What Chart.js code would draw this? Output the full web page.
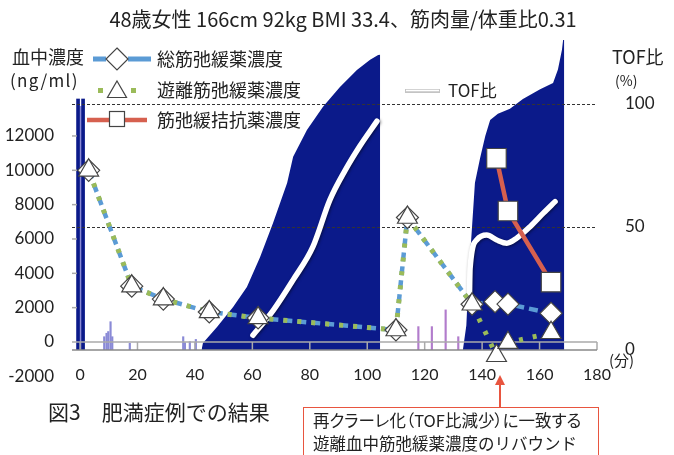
<!DOCTYPE html>
<html>
<head>
<meta charset="utf-8">
<script src="https://cdn.jsdelivr.net/npm/chart.js@4.4.1/dist/chart.umd.min.js"></script>
<style>
  body { margin: 0; background: #fff; }
  #wrap { position: relative; width: 674px; height: 455px; overflow: hidden; font-family: "Noto Sans CJK JP", sans-serif; color: #222; }
  #wrap canvas { position: absolute; left: 0; top: 0; }
  .t { position: absolute; white-space: nowrap; line-height: 1; }
  .p { font-feature-settings: "palt"; }
  #note { position: absolute; left: 303px; top: 407px; width: 296px; height: 60px; border: 1.5px solid #e8553f; box-sizing: border-box; }
</style>
</head>
<body>
<div id="wrap">
  <canvas id="chart" width="674" height="455"></canvas>
  <div class="t" style="left:0;width:686px;text-align:center;top:9px;font-size:20px">48歳女性 166cm 92kg BMI 33.4、筋肉量/体重比0.31</div>
  <div class="t" style="left:12px;top:47px;font-size:18px">血中濃度</div>
  <div class="t" style="left:10px;top:71px;font-size:17px;letter-spacing:1.3px">(ng/ml)</div>
  <div class="t" style="left:157px;top:49px;font-size:18px">総筋弛緩薬濃度</div>
  <div class="t" style="left:157px;top:80px;font-size:18px">遊離筋弛緩薬濃度</div>
  <div class="t" style="left:157px;top:110px;font-size:18px">筋弛緩拮抗薬濃度</div>
  <div class="t" style="left:448px;top:81px;font-size:17px">TOF比</div>
  <div class="t" style="left:612px;top:47px;font-size:18px">TOF比</div>
  <div class="t" style="left:615px;top:73px;font-size:14px">(%)</div>
  <div class="t" style="left:609px;top:352px;font-size:15px">(分)</div>
  <div class="t" style="left:48px;top:401px;font-size:21px">図3　肥満症例での結果</div>
  <div id="note"></div>
  <div class="t p" style="left:313px;top:412px;font-size:16.5px">再クラーレ化（TOF比減少）に一致する</div>
  <div class="t" style="left:313px;top:435px;font-size:16.5px">遊離血中筋弛緩薬濃度のリバウンド</div>
</div>
<script>
// axis ticks
const xTicks = [0, 20, 40, 60, 80, 100, 120, 140, 160, 180];
const concTicks = [-2000, 0, 2000, 4000, 6000, 8000, 10000, 12000];
const tofTicks = [0, 50, 100];
const tofGuides = [50, 100];

// blood concentrations (ng/ml)
const totalTime = [3, 18, 29, 45, 62, 110, 114, 136.5, 144.5, 149, 164];
const totalConc = [10000, 3250, 2500, 1750, 1400, 700, 7250, 2200, 2350, 2210, 1670];
const freeTime = [3, 18, 29, 45, 62, 110, 114, 136.5, 145, 149, 164];
const freeConc = [10000, 3250, 2500, 1750, 1400, 700, 7250, 2200, -800, -40, 540];
const antagTime = [145, 149, 164];
const antagConc = [10700, 7630, 3490];

// TOF ratio (%)
const tof1Time = [60.2, 67.2, 74.2, 81.1, 87, 92.3, 97.5, 103.4];
const tof1Ratio = [6, 16, 28.5, 42, 61, 73, 83, 93];
const tof2Time = [135.6, 135.8, 138.1, 141.6, 145.1, 148.6, 152, 156.7, 161.3, 165.4];
const tof2Ratio = [22, 33, 44.7, 46.7, 44.7, 43.4, 45.4, 50.1, 55.6, 60.3];

// monitor trace (T1 height, % scale)
const mon1Time = [42.3, 42.8, 47.7, 53.3, 58.1, 62.7, 67.2, 72.1, 74.2, 79, 84.6, 90.5, 96.4, 101, 103.8, 104.5, 104.5];
const mon1Height = [0, 2.8, 9.3, 17.5, 25.6, 37.8, 51.6, 67.9, 78.5, 89.4, 98.8, 106.9, 113.8, 117.9, 119.9, 120, 0];
const mon2Time = [133.3, 134.5, 135.3, 136.2, 137.5, 139.3, 141.1, 142.8, 145.5, 149.7, 154.2, 160.2, 164.7, 166.4, 167.8, 168.2, 168.6, 168.6];
const mon2Height = [0, 10, 30, 45, 68, 78, 87, 93.5, 96, 98, 102, 106, 108.5, 114, 122, 126, 126, 0];
const spikeTime = [0.35, 2.1];
const spikeHeight = [102, 102];
const lowBarTime = [-0.3, 7.9, 8.7, 9.3, 10.1, 10.7, 16.8, 35.4, 36, 37.7, 39.8];
const lowBarHeight = [99, 5.4, 6.8, 7.5, 11.5, 5.4, 2.7, 5.4, 3, 3.4, 4.3];
const purpleBarTime = [117.8, 122.5, 127.3, 131.7];
const purpleBarHeight = [9.5, 9.5, 16.3, 5.4];

const blue = "#5b9bd5";
const green = "#9bbb59";
const red = "#d6604f";
const navy = "#0b1a8a";
const edge = "#444";

const pts = (xs, ys) => xs.map((x, i) => ({ x: x, y: ys[i] }));

const diamond = (c, x, y, r) => {
  c.beginPath();
  c.moveTo(x, y - r); c.lineTo(x + r, y); c.lineTo(x, y + r); c.lineTo(x - r, y);
  c.closePath();
  c.fillStyle = "#fff"; c.fill();
  c.strokeStyle = edge; c.lineWidth = 1.2; c.stroke();
};
const triangle = (c, x, y, r) => {
  c.beginPath();
  c.moveTo(x, y - r); c.lineTo(x + r * 0.866, y + r / 2); c.lineTo(x - r * 0.866, y + r / 2);
  c.closePath();
  c.fillStyle = "#fff"; c.fill();
  c.strokeStyle = edge; c.lineWidth = 1.2; c.stroke();
};
const line = (c, x1, y1, x2, y2) => {
  c.beginPath(); c.moveTo(x1, y1); c.lineTo(x2, y2); c.stroke();
};

const extras = {
  id: "extras",
  beforeDatasetDraw(chart, args) {
    if (chart.data.datasets[args.index].glow) {
      const c = chart.ctx;
      c.save();
      c.shadowColor = "rgba(0,0,0,0.5)";
      c.shadowBlur = 3;
      c.shadowOffsetX = 1;
      c.shadowOffsetY = 1;
    }
  },
  afterDatasetDraw(chart, args) {
    const ds = chart.data.datasets[args.index];
    if (ds.glow) chart.ctx.restore();
    if (!ds.drawGuides) return;
    // guide lines on top of the monitor trace
    const c = chart.ctx, ca = chart.chartArea;
    const x = chart.scales.x, y = chart.scales.y, y1 = chart.scales.y1;
    c.save();
    c.strokeStyle = "#333";
    c.lineWidth = 1;
    c.setLineDash([3, 2]);
    tofGuides.forEach((v) => {
      const py = Math.round(y1.getPixelForValue(v)) + 0.5;
      line(c, ca.left, py, ca.right, py);
    });
    c.setLineDash([]);
    c.strokeStyle = "#aaa";
    c.lineWidth = 1.5;
    const z = y.getPixelForValue(0);
    line(c, ca.left, z, ca.right, z);
    xTicks.forEach((v) => {
      const px = x.getPixelForValue(v);
      line(c, px, z, px, ca.bottom);
    });
    concTicks.filter((v) => v > 0).forEach((v) => {
      const py = y.getPixelForValue(v);
      line(c, ca.left, py, ca.left + 5, py);
    });
    c.strokeStyle = "#888";
    line(c, ca.left, ca.bottom, ca.right, ca.bottom);
    c.restore();
  },
  afterDraw(chart) {
    const c = chart.ctx;
    c.save();
    // legend symbols
    c.strokeStyle = blue; c.lineWidth = 5;
    line(c, 93, 59, 106, 59);
    line(c, 128, 59, 151, 59);
    diamond(c, 117, 59, 11);
    c.fillStyle = green;
    c.fillRect(98, 88, 5, 5);
    c.fillRect(131, 88, 5, 5);
    triangle(c, 117, 92, 11);
    c.strokeStyle = red; c.lineWidth = 4.5;
    line(c, 87, 120, 147, 120);
    c.fillStyle = "#fff"; c.fillRect(109.5, 111.5, 15, 15);
    c.strokeStyle = edge; c.lineWidth = 1.2; c.strokeRect(109.5, 111.5, 15, 15);
    c.strokeStyle = "#c4c4c4"; c.lineWidth = 4;
    line(c, 405, 91, 440, 91);
    c.strokeStyle = "#fff"; c.lineWidth = 1.5;
    line(c, 406, 90.5, 439, 90.5);
    // annotation arrow
    c.strokeStyle = "#e8553f"; c.fillStyle = "#e8553f"; c.lineWidth = 2;
    line(c, 500, 407, 500, 383);
    c.beginPath(); c.moveTo(500, 375); c.lineTo(495, 385); c.lineTo(505, 385); c.closePath(); c.fill();
    c.restore();
  }
};

const tickFont = { family: "Lato", size: 17 };

new Chart(document.getElementById("chart"), {
  type: "line",
  data: {
    datasets: [
      { label: "monitor1", data: pts(mon1Time, mon1Height), yAxisID: "y1", fill: "origin",
        backgroundColor: navy, borderColor: "rgba(0,0,0,0)", borderWidth: 0, pointRadius: 0, tension: 0, order: 30 },
      { label: "monitor2", data: pts(mon2Time, mon2Height), yAxisID: "y1", fill: "origin",
        backgroundColor: navy, borderColor: "rgba(0,0,0,0)", borderWidth: 0, pointRadius: 0, tension: 0, order: 29 },
      { type: "bar", label: "low", data: pts(lowBarTime, lowBarHeight), yAxisID: "y1",
        backgroundColor: "#8a8ad6", barThickness: 1.5, order: 28 },
      { type: "bar", label: "purple", data: pts(purpleBarTime, purpleBarHeight), yAxisID: "y1",
        backgroundColor: "#b27ccc", barThickness: 1.5, order: 27 },
      { type: "bar", label: "spike", data: pts(spikeTime, spikeHeight), yAxisID: "y1",
        backgroundColor: navy, barThickness: 3, order: 26, drawGuides: true },
      { label: "TOF比", data: [...pts(tof1Time, tof1Ratio), { x: 120, y: null }, ...pts(tof2Time, tof2Ratio)],
        yAxisID: "y1", borderColor: "#fff", borderWidth: 5.5, pointRadius: 0, cubicInterpolationMode: "monotone",
        borderCapStyle: "round", spanGaps: false, order: 10, glow: true },
      { label: "総筋弛緩薬濃度 line", data: pts(totalTime, totalConc), yAxisID: "y",
        borderColor: blue, borderWidth: 4.5, borderDash: [9, 5], pointRadius: 0, tension: 0, order: 8, clip: false },
      { label: "遊離筋弛緩薬濃度 line", data: pts(freeTime, freeConc), yAxisID: "y",
        borderColor: green, borderWidth: 5, borderDash: [4, 10], pointRadius: 0, tension: 0, order: 7, clip: false },
      { label: "総筋弛緩薬濃度", data: pts(totalTime, totalConc), yAxisID: "y", showLine: false,
        pointStyle: "rectRot", pointRadius: 11, pointBackgroundColor: "#fff", pointBorderColor: edge,
        pointBorderWidth: 1.2, order: 6, clip: false },
      { label: "遊離筋弛緩薬濃度", data: pts(freeTime, freeConc), yAxisID: "y", showLine: false,
        pointStyle: "triangle", pointRadius: 11.5, pointBackgroundColor: "#fff", pointBorderColor: edge,
        pointBorderWidth: 1.2, order: 5, clip: false },
      { label: "筋弛緩拮抗薬濃度", data: pts(antagTime, antagConc), yAxisID: "y",
        borderColor: red, borderWidth: 4.5, tension: 0,
        pointStyle: "rect", pointRadius: 13.8, pointBackgroundColor: "#fff", pointBorderColor: edge,
        pointBorderWidth: 1.2, order: 4, clip: false }
    ]
  },
  options: {
    responsive: false,
    devicePixelRatio: 1,
    animation: false,
    events: [],
    layout: { padding: { top: 36, left: 0, right: 0, bottom: 0 } },
    plugins: { legend: { display: false }, tooltip: { enabled: false } },
    scales: {
      x: {
        type: "linear", min: -2.8, max: 180, offset: false,
        grid: { display: false, offset: false }, border: { display: false },
        afterBuildTicks: (s) => { s.ticks = xTicks.map((v) => ({ value: v })); },
        afterFit: (s) => { s.height = 105; },
        ticks: { autoSkip: false, maxRotation: 0, padding: 7, color: "#222", font: { family: "Lato", size: 16 },
          callback: (v) => String(v) }
      },
      y: {
        type: "linear", position: "left", min: -466, max: 17822,
        grid: { display: false }, border: { display: false },
        afterBuildTicks: (s) => { s.ticks = concTicks.map((v) => ({ value: v })); },
        afterFit: (s) => { s.width = 72; },
        ticks: { autoSkip: false, padding: 10, color: "#222", font: tickFont, callback: (v) => String(v) }
      },
      y1: {
        type: "linear", position: "right", min: 0, max: 127.6,
        grid: { display: false }, border: { display: false },
        afterBuildTicks: (s) => { s.ticks = tofTicks.map((v) => ({ value: v })); },
        afterFit: (s) => { s.width = 77; },
        ticks: { autoSkip: false, padding: 20, color: "#222", font: tickFont, callback: (v) => String(v) }
      }
    }
  },
  plugins: [extras]
});
</script>
</body>
</html>
